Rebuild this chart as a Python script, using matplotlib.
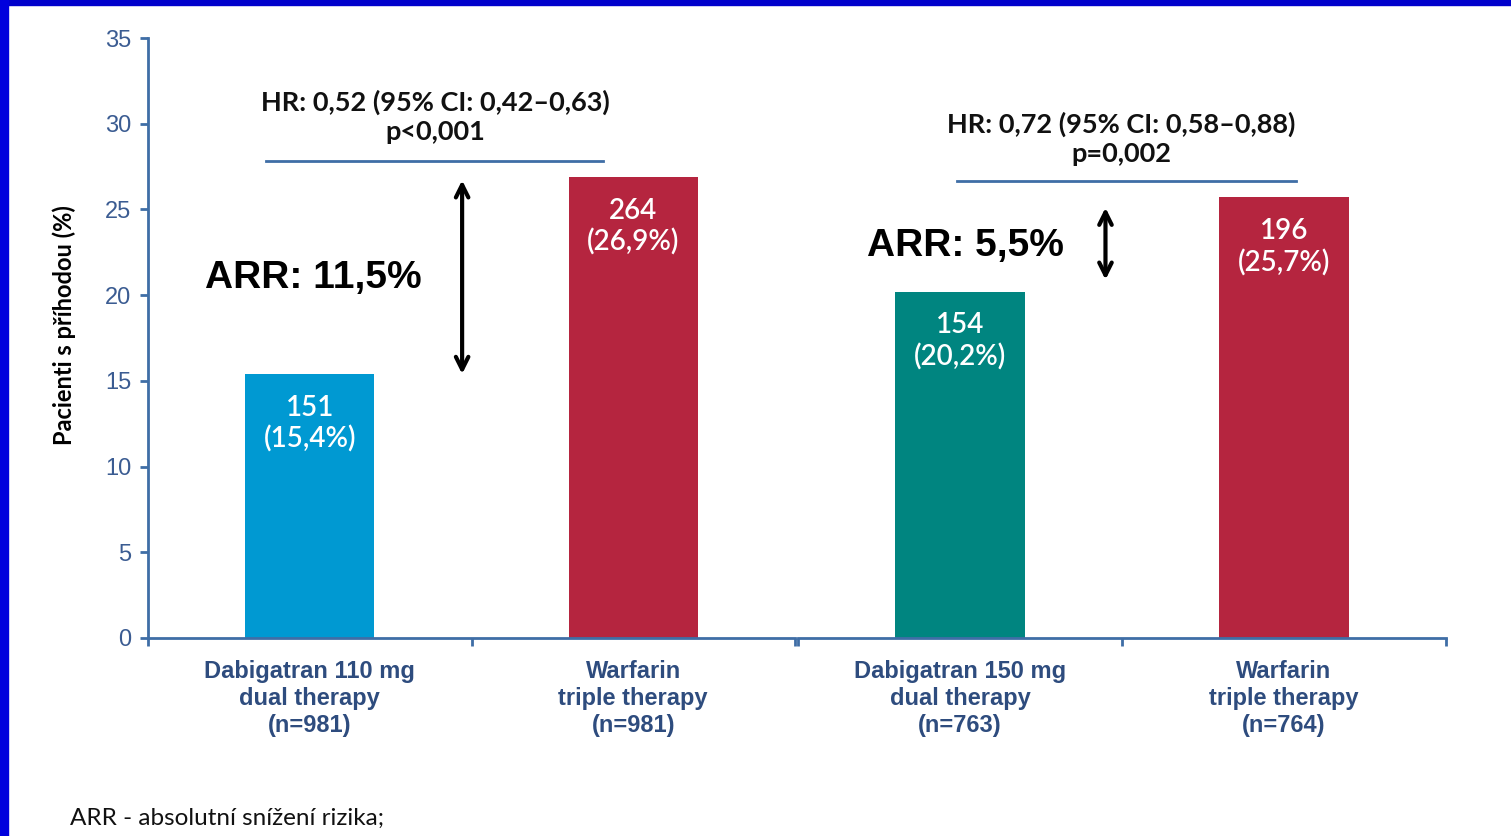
import matplotlib
matplotlib.use("Agg")
import matplotlib.pyplot as plt
from matplotlib.patches import Rectangle

# ---- data ----
groups = [
    ["Dabigatran 110 mg\ndual therapy\n(n=981)", "Warfarin\ntriple therapy\n(n=981)"],
    ["Dabigatran 150 mg\ndual therapy\n(n=763)", "Warfarin\ntriple therapy\n(n=764)"],
]
values = [[15.4, 26.9], [20.2, 25.7]]
counts = [[151, 264], [154, 196]]
bar_colors = [["#0099D2", "#B5253F"], ["#008580", "#B5253F"]]
hr_texts = ["HR: 0,52 (95% CI: 0,42\u20130,63)\np<0,001",
            "HR: 0,72 (95% CI: 0,58\u20130,88)\np=0,002"]
arr_texts = ["ARR: 11,5%", "ARR: 5,5%"]
yticks = [0, 5, 10, 15, 20, 25, 30, 35]
ylabel = "Pacienti s příhodou (%)"
footnote = "ARR - absolutní snížení rizika;"

W, H = 1511, 836
fig = plt.figure(figsize=(W / 100, H / 100), dpi=100)
fig.patch.set_facecolor("white")

axis_col = "#3F6EA6"
tick_col = "#3B5C92"
cat_col = "#2E4C7E"

# blue frame
fig.patches.append(Rectangle((0, 1 - 5 / H), 1, 5 / H, transform=fig.transFigure,
                             color="#0000CC", zorder=0))
fig.patches.append(Rectangle((0, 0), 8 / W, 1, transform=fig.transFigure,
                             color="#0000DD", zorder=0))

bottom = (H - 638) / H
height = 600 / H
ax1 = fig.add_axes([148 / W, bottom, (795 - 148) / W, height])
ax2 = fig.add_axes([798 / W, bottom, (1446 - 798) / W, height])

hr_line = [(-0.135, 0.906, 27.83), (-0.008, 1.036, 26.66)]
hr_pos = [(0.387, 30.4), (0.498, 29.1)]
arrow_spec = [(0.471, 26.7, 15.4), (0.449, 25.1, 20.9)]
arr_pos = [(0.01, 21.0), (0.016, 22.85)]

for gi, ax in enumerate([ax1, ax2]):
    x = range(len(values[gi]))
    ax.bar(x, values[gi], width=0.4, color=bar_colors[gi], zorder=2)
    ax.set_xlim(-0.5, 1.5)
    ax.set_ylim(0, 35)
    ax.set_facecolor("none")
    for s in ["top", "right"]:
        ax.spines[s].set_visible(False)
    ax.spines["bottom"].set_color(axis_col)
    ax.spines["bottom"].set_linewidth(2)
    ax.set_xticks([-0.5, 0.5, 1.5])
    ax.set_xticklabels([])
    ax.tick_params(axis="x", direction="out", length=6, width=2, color=axis_col)
    for xi, lab in zip(x, groups[gi]):
        ax.text(xi, -1.3, lab, ha="center", va="top", fontsize=17,
                fontweight="bold", color=cat_col, linespacing=1.22,
                family="Liberation Sans")
    if gi == 0:
        ax.spines["left"].set_color(axis_col)
        ax.spines["left"].set_linewidth(2)
        ax.set_yticks(yticks)
        ax.set_yticklabels([str(t) for t in yticks], fontsize=17,
                           color=tick_col, family="Liberation Sans")
        ax.tick_params(axis="y", direction="out", length=6, width=2,
                       color=axis_col, pad=6)
        ax.set_ylabel(ylabel, fontsize=17, fontweight="bold", family="Lato")
        ax.yaxis.set_label_coords(-0.112, 0.522)
    else:
        ax.spines["left"].set_visible(False)
        ax.set_yticks([])
    for xi, v, c in zip(x, values[gi], counts[gi]):
        ax.text(xi, v - 2.9, f"{c}\n({str(v).replace('.', ',')}%)",
                ha="center", va="center", color="white", fontsize=20,
                family="Lato", fontweight="semibold", linespacing=1.22)
    x0, x1, yl = hr_line[gi]
    ax.plot([x0, x1], [yl, yl], color=axis_col, lw=2, clip_on=False)
    hx, hy = hr_pos[gi]
    ax.text(hx, hy, hr_texts[gi], ha="center", va="center", fontsize=19.5,
            fontweight="bold", family="Lato", linespacing=1.25, color="#111111")
    axx, ya, yb = arrow_spec[gi]
    ax.annotate("", xy=(axx, ya), xytext=(axx, yb),
                arrowprops=dict(arrowstyle="<->,head_length=0.9,head_width=0.45",
                                lw=3, color="black", shrinkA=0, shrinkB=0))
    tx, ty = arr_pos[gi]
    ax.text(tx, ty, arr_texts[gi], ha="center", va="center", fontsize=28,
            fontweight="bold", family="Liberation Sans", color="black")

fig.text(70 / W, 1 - 818 / H, footnote, ha="left", va="center", fontsize=17.5,
         family="Lato", color="#111111")

fig.savefig("out.png", dpi=100)
